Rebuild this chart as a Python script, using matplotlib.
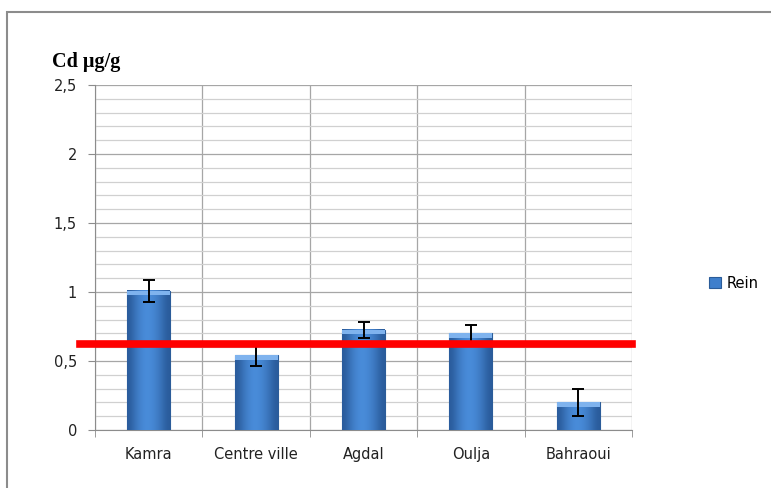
import numpy as np
import matplotlib
matplotlib.use("Agg")
from matplotlib import pyplot as plt
from matplotlib.patches import Rectangle
from matplotlib.colors import LinearSegmentedColormap

sites = ["Kamra", "Centre ville", "Agdal", "Oulja", "Bahraoui"]
rein = [1.01, 0.54, 0.725, 0.70, 0.20]
rein_err = [0.08, 0.075, 0.06, 0.06, 0.095]
limit = 0.623
yticks = [0, 0.5, 1, 1.5, 2, 2.5]
ytick_labels = ["0", "0,5", "1", "1,5", "2", "2,5"]

fig = plt.figure(figsize=(7.71, 4.88), dpi=100)
ax = fig.add_axes([95/771, 1 - 430/488, 537/771, 345/488])

# outer chart frame
fig.patches.append(Rectangle((7/771, -0.05), 1.0, 1 - 12/488 + 0.05,
                             transform=fig.transFigure, fill=False,
                             edgecolor="#8c8c8c", linewidth=1.5))

x = np.arange(len(sites))
bars = ax.bar(x, rein, width=0.4, color="#3f7fcc", edgecolor="#2b5c99",
              linewidth=0.8, zorder=3, label="Rein")

# horizontal shading on each bar
grad = np.array([[0.0, 0.35, 0.6, 0.75, 0.7, 0.55, 0.3, 0.0]])
cmap = LinearSegmentedColormap.from_list("bar", ["#2a5c9c", "#4a8ddb"])
for b in bars:
    x0, y0 = b.get_x(), b.get_y()
    ax.imshow(grad, extent=(x0, x0 + b.get_width(), y0, y0 + b.get_height()),
              cmap=cmap, aspect="auto", zorder=3.5, interpolation="bicubic")
    ax.add_patch(Rectangle((x0, y0 + b.get_height() - 0.03), b.get_width(), 0.03,
                           facecolor="#7fb3ee", edgecolor="none", zorder=3.6))

ax.errorbar(x, rein, yerr=rein_err, fmt="none", ecolor="black",
            elinewidth=1.4, capsize=4, capthick=1.4, zorder=5)

ax.axhline(limit, xmin=-0.028, xmax=1.0, color="#ff0000", linewidth=5.5,
           zorder=6, clip_on=False)

ax.set_xlim(-0.5, len(sites) - 0.5)
ax.set_ylim(0, 2.5)
ax.set_yticks(yticks)
ax.set_yticklabels(ytick_labels, fontsize=10.5, color="#222222")
ax.set_yticks(np.arange(0, 2.51, 0.1), minor=True)
ax.tick_params(axis="y", which="minor", length=0)
ax.tick_params(axis="y", which="major", length=5, color="#8c8c8c", pad=8)
ax.set_xticks(x)
ax.set_xticklabels(sites, fontsize=10.5, color="#222222")
ax.tick_params(axis="x", length=0, pad=12)
ax.set_xticks(np.arange(-0.5, len(sites)), minor=True)
ax.tick_params(axis="x", which="minor", length=5, color="#8c8c8c")

ax.grid(axis="y", which="minor", color="#d0d0d0", linewidth=0.9, zorder=0)
ax.grid(axis="y", which="major", color="#a6a6a6", linewidth=0.9, zorder=0)
ax.grid(axis="x", which="minor", color="#a6a6a6", linewidth=0.9, zorder=0)
ax.set_axisbelow(True)
for side in ["top", "right"]:
    ax.spines[side].set_visible(False)
ax.spines["left"].set_color("#8c8c8c")
ax.spines["bottom"].set_color("#8c8c8c")

fig.text(52/771, 1 - 62/488, "Cd µg/g", fontsize=14.5, fontweight="bold",
         family="Liberation Serif", va="center", ha="left")

fig.legend(handles=[bars], labels=["Rein"], loc="center left",
           bbox_to_anchor=(696/771, 1 - 283/488), frameon=False, fontsize=10.5,
           handlelength=0.8, handleheight=0.8, handletextpad=0.4)

fig.savefig("out.png", dpi=100)
